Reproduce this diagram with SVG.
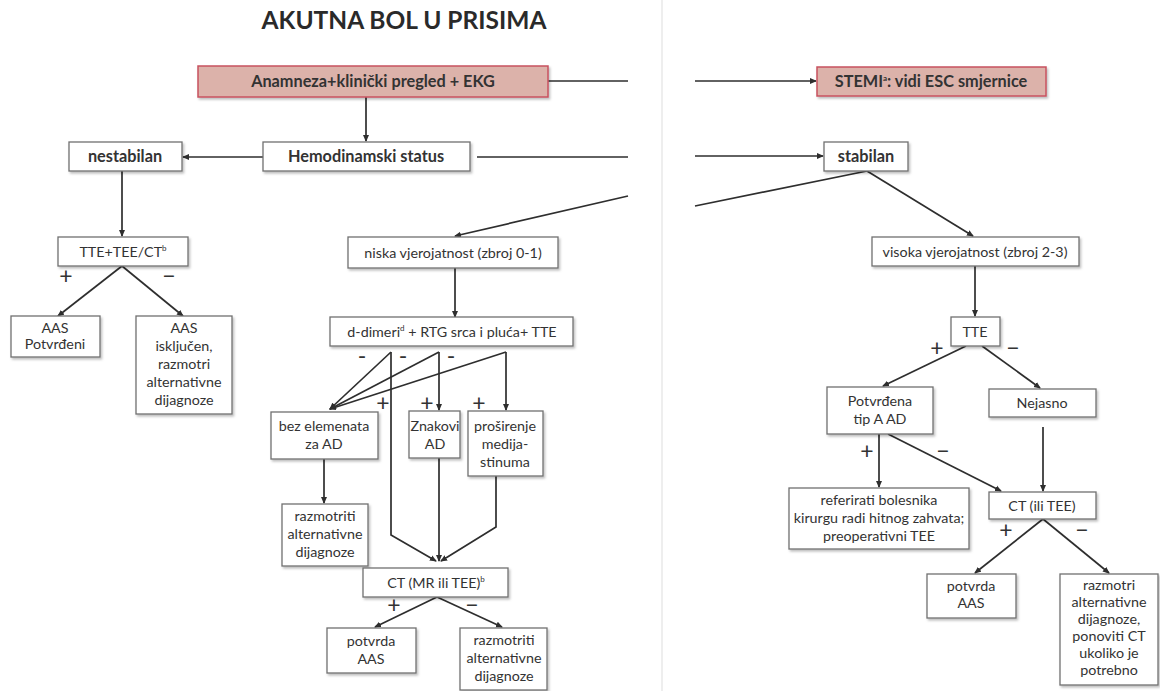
<svg xmlns="http://www.w3.org/2000/svg" width="1160" height="691" viewBox="0 0 1160 691">
<defs>
<marker id="ah" markerUnits="userSpaceOnUse" markerWidth="7" markerHeight="7" refX="6" refY="3.5" orient="auto"><path d="M0,0.5 L7,3.5 L0,6.5 z" fill="#2e2e2e"/></marker>
<filter id="sh" x="-10%" y="-10%" width="130%" height="140%"><feDropShadow dx="1.5" dy="2" stdDeviation="1.2" flood-color="#000" flood-opacity="0.25"/></filter>
</defs>
<style>
.box{fill:#fff;stroke:#707070;stroke-width:1.3;filter:url(#sh)}
.red{fill:#dcb2aa;stroke:#c8525f;stroke-width:1.5;filter:url(#sh)}
.t{font-family:Lato,"Liberation Sans",sans-serif;font-size:14.3px;fill:#333;text-anchor:middle}
.b{font-family:Lato,"Liberation Sans",sans-serif;font-size:16.3px;font-weight:bold;fill:#333;text-anchor:middle}
.pm{font-family:Lato,"Liberation Sans",sans-serif;font-size:23px;fill:#333;text-anchor:middle}
.c{fill:none;stroke:#2e2e2e;stroke-width:1.7}
.a{marker-end:url(#ah)}
.sup{font-size:8px}
</style>
<rect width="1160" height="691" fill="#fff"/>
<line x1="662" y1="0" x2="662" y2="691" stroke="#eeeeee" stroke-width="2"/>
<text x="404" y="29" font-family="Lato,'Liberation Sans',sans-serif" font-size="24.5" font-weight="bold" fill="#2a2a2a" text-anchor="middle">AKUTNA BOL U PRISIMA</text>

<g id="connectors">
<path class="c" d="M548,81 H628"/>
<path class="c a" d="M695,81 H816"/>
<path class="c a" d="M366,97 V141"/>
<path class="c a" d="M263,157 H183"/>
<path class="c" d="M477,157 H628"/>
<path class="c a" d="M695,156 H823"/>
<path class="c" d="M867,171 L695,206"/>
<path class="c a" d="M628,196 L455,236"/>
<path class="c a" d="M867,171 L973,236"/>
<path class="c a" d="M122,171 V236"/>
<path class="c a" d="M122,266 L58,316"/>
<path class="c a" d="M122,266 L183,316"/>
<path class="c a" d="M455,268 V317"/>
<path class="c a" d="M391,352 L330,409"/>
<path class="c a" d="M439,352 L330,409"/>
<path class="c a" d="M506,352 L330,409"/>
<path class="c a" d="M439,352 V410"/>
<path class="c a" d="M506,352 V410"/>
<path class="c a" d="M391,352 V535 L436,561"/>
<path class="c a" d="M439,458 V561"/>
<path class="c a" d="M496,476 V527 L441,561"/>
<path class="c a" d="M324,459 V503"/>
<path class="c a" d="M437,597 L375,627"/>
<path class="c a" d="M437,597 L502,627"/>
<path class="c a" d="M975,266 V316"/>
<path class="c a" d="M966,346 L883,386"/>
<path class="c a" d="M982,346 L1040,388"/>
<path class="c a" d="M879,434 V487"/>
<path class="c a" d="M888,434 L1001,491"/>
<path class="c a" d="M1043,427 V491"/>
<path class="c a" d="M1043,519 L975,573"/>
<path class="c a" d="M1043,519 L1109,573"/>
</g>

<g id="labels">
<text class="pm" x="66" y="284">+</text>
<text class="pm" x="169" y="284">−</text>
<text class="pm" x="362" y="364">-</text>
<text class="pm" x="403" y="364">-</text>
<text class="pm" x="451" y="364">-</text>
<text class="pm" x="383" y="411">+</text>
<text class="pm" x="427" y="411">+</text>
<text class="pm" x="479" y="411">+</text>
<text class="pm" x="394" y="613">+</text>
<text class="pm" x="472" y="613">−</text>
<text class="pm" x="937" y="356">+</text>
<text class="pm" x="1013" y="356">−</text>
<text class="pm" x="867" y="459">+</text>
<text class="pm" x="943" y="459">−</text>
<text class="pm" x="1006" y="538">+</text>
<text class="pm" x="1082" y="538">−</text>
</g>

<g id="anamneza"><rect class="red" x="198" y="66" width="350" height="31"/><text class="b" x="373" y="87">Anamneza+klinički pregled + EKG</text></g>
<g id="stemi"><rect class="red" x="817" y="67" width="229" height="29"/><text class="b" x="931" y="87">STEMI<tspan class="sup" dy="-6">a</tspan><tspan dy="6">: vidi ESC smjernice</tspan></text></g>
<g id="hemodinamski"><rect class="box" x="263" y="142" width="207" height="29"/><text class="b" x="366" y="162">Hemodinamski status</text></g>
<g id="nestabilan"><rect class="box" x="69" y="142" width="113" height="29"/><text class="b" x="125" y="162">nestabilan</text></g>
<g id="stabilan"><rect class="box" x="824" y="142" width="84" height="29"/><text class="b" x="866" y="162">stabilan</text></g>
<g id="tte-tee-ct"><rect class="box" x="58" y="237" width="130" height="29"/><text class="t" x="123" y="256.5">TTE+TEE/CT<tspan class="sup" dy="-6">b</tspan></text></g>
<g id="aas-potvrdeni"><rect class="box" x="11" y="316" width="89" height="41"/><text class="t" x="55" y="333">AAS</text><text class="t" x="55" y="349">Potvrđeni</text></g>
<g id="aas-iskljucen"><rect class="box" x="136" y="316" width="96" height="98"/><text class="t" x="184" y="333">AAS</text><text class="t" x="184" y="351">isključen,</text><text class="t" x="184" y="369">razmotri</text><text class="t" x="184" y="387">alternativne</text><text class="t" x="184" y="405">dijagnoze</text></g>
<g id="niska"><rect class="box" x="348" y="237" width="210" height="31"/><text class="t" x="453" y="257.5">niska vjerojatnost (zbroj 0-1)</text></g>
<g id="d-dimeri"><rect class="box" x="330" y="317" width="243" height="29"/><text class="t" x="452" y="336.5">d-dimeri<tspan class="sup" dy="-6">d</tspan><tspan dy="6"> + RTG srca i pluća+ TTE</tspan></text></g>
<g id="bez-elemenata"><rect class="box" x="271" y="412" width="107" height="47"/><text class="t" x="324" y="431">bez elemenata</text><text class="t" x="324" y="449">za AD</text></g>
<g id="znakovi"><rect class="box" x="409" y="411" width="51" height="47"/><text class="t" x="435" y="431">Znakovi</text><text class="t" x="435" y="449">AD</text></g>
<g id="prosirenje"><rect class="box" x="468" y="411" width="75" height="65"/><text class="t" x="505" y="431">proširenje</text><text class="t" x="505" y="449">medija-</text><text class="t" x="505" y="467">stinuma</text></g>
<g id="razmotriti-1"><rect class="box" x="282" y="504" width="86" height="62"/><text class="t" x="325" y="521">razmotriti</text><text class="t" x="325" y="539">alternativne</text><text class="t" x="325" y="557">dijagnoze</text></g>
<g id="ct-mr"><rect class="box" x="363" y="568" width="145" height="29"/><text class="t" x="436" y="587.5">CT (MR ili TEE)<tspan class="sup" dy="-6">b</tspan></text></g>
<g id="potvrda-aas-1"><rect class="box" x="327" y="628" width="89" height="45"/><text class="t" x="371" y="646">potvrda</text><text class="t" x="371" y="664">AAS</text></g>
<g id="razmotriti-2"><rect class="box" x="460" y="628" width="87" height="62"/><text class="t" x="504" y="645">razmotriti</text><text class="t" x="504" y="663">alternativne</text><text class="t" x="504" y="681">dijagnoze</text></g>
<g id="visoka"><rect class="box" x="872" y="237" width="207" height="29"/><text class="t" x="975" y="256.5">visoka vjerojatnost (zbroj 2-3)</text></g>
<g id="tte"><rect class="box" x="951" y="317" width="49" height="29"/><text class="t" x="975" y="336.5">TTE</text></g>
<g id="potvrdena"><rect class="box" x="827" y="387" width="106" height="47"/><text class="t" x="880" y="406">Potvrđena</text><text class="t" x="880" y="424">tip A AD</text></g>
<g id="nejasno"><rect class="box" x="989" y="389" width="107" height="28"/><text class="t" x="1042" y="408">Nejasno</text></g>
<g id="referirati"><rect class="box" x="789" y="488" width="180" height="61"/><text class="t" x="879" y="505">referirati bolesnika</text><text class="t" x="879" y="523">kirurgu radi hitnog zahvata;</text><text class="t" x="879" y="541">preoperativni TEE</text></g>
<g id="ct-ili-tee"><rect class="box" x="989" y="492" width="107" height="27"/><text class="t" x="1042" y="510.5">CT (ili TEE)</text></g>
<g id="potvrda-aas-2"><rect class="box" x="927" y="574" width="89" height="44"/><text class="t" x="971" y="591">potvrda</text><text class="t" x="971" y="608">AAS</text></g>
<g id="razmotri-3"><rect class="box" x="1060" y="574" width="98" height="111"/><text class="t" x="1109" y="590">razmotri</text><text class="t" x="1109" y="607">alternativne</text><text class="t" x="1109" y="624">dijagnoze,</text><text class="t" x="1109" y="641">ponoviti CT</text><text class="t" x="1109" y="658">ukoliko je</text><text class="t" x="1109" y="675">potrebno</text></g>
</svg>
